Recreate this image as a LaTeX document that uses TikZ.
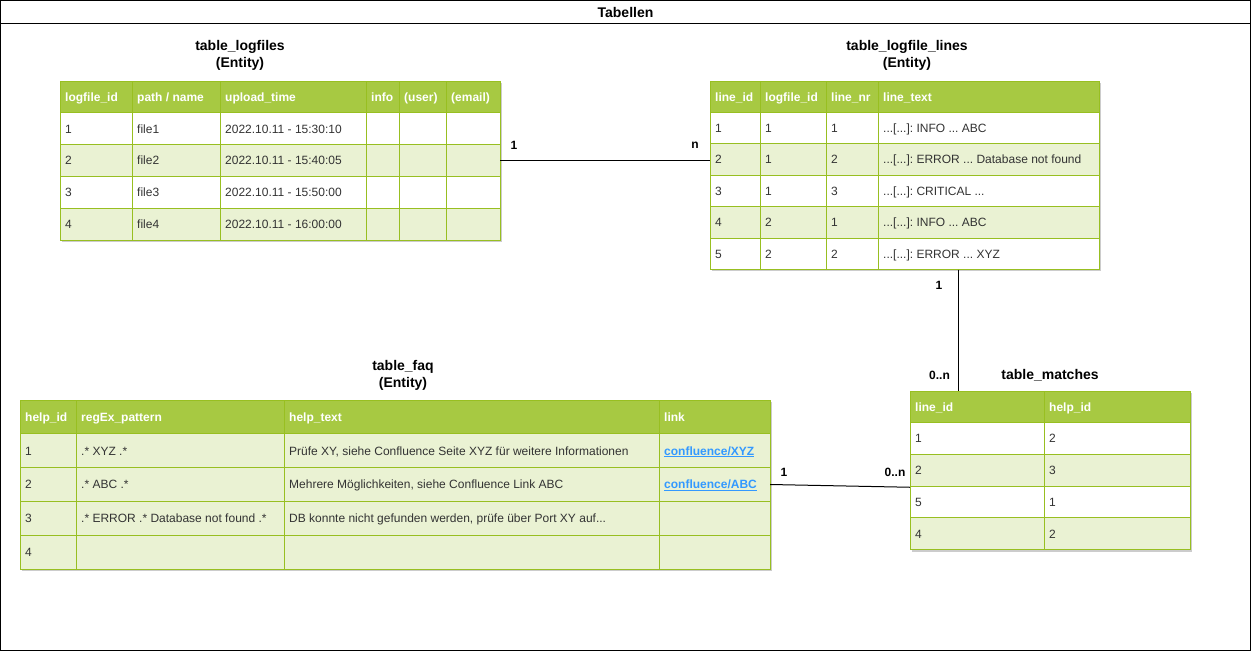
\documentclass[tikz,border=0pt]{standalone}
\usepackage{fontspec}
\setmainfont{Liberation Sans}
\usetikzlibrary{fit}
\frenchspacing
\definecolor{headgreen}{RGB}{167,201,66}
\definecolor{rowgreen}{RGB}{234,242,211}
\definecolor{gridgreen}{RGB}{152,191,33}
\definecolor{textgray}{RGB}{51,51,51}
\definecolor{linkblue}{RGB}{51,153,255}
\tikzset{
  headcell/.style={anchor=base west, inner sep=0pt, text=white, font=\fontsize{12}{14}\selectfont\bfseries},
  bodycell/.style={anchor=base west, inner sep=0pt, text=textgray, font=\fontsize{12}{14}\selectfont},
  tabtitle/.style={align=center, inner sep=0pt, font=\fontsize{14}{16.5}\selectfont\bfseries},
  cardlabel/.style={inner sep=0pt, font=\fontsize{12}{14}\selectfont\bfseries},
  tabgrid/.style={draw=gridgreen, line width=1pt},
  tabshadow/.style={fill=gray!40},
  tabbox/.style={inner sep=0pt, draw=none}
}
\newcommand{\linkcell}[1]{\textcolor{linkblue}{\underline{\textbf{#1}}}}

\begin{document}
\begin{tikzpicture}[x=1pt,y=-1pt]
\useasboundingbox (0,0) rectangle (1251,651);
\draw[line width=1pt] (0.5,0.5) rectangle (1250.5,650.5);
\draw[line width=1pt] (0.5,23) -- (1250.5,23);
\node[tabtitle] (title) at (625.5,12.5) {Tabellen};

% table_logfiles
\node[tabtitle] (lftitle) at (240,55.5) {table\_logfiles\\(Entity)};
\fill[tabshadow] (62,83) rectangle (502,242);
\fill[white] (60,81) rectangle (500,240);
\fill[headgreen] (60,81) rectangle (500,113);
\foreach \y in {144.5,208} \fill[rowgreen] (60,\y) rectangle (500,\y+31.75);
\foreach \y in {112.75,144.5,176.25,208} \draw[tabgrid] (60,\y) -- (500,\y);
\foreach \x in {132,220,366,399,446} \draw[tabgrid] (\x,81) -- (\x,240);
\draw[tabgrid] (60,81) rectangle (500,240);
\node[tabbox, fit={(60,81) (500,240)}] (logfiles) {};
\foreach \x/\t [count=\i] in {60/logfile\_id,132/{path / name},220/upload\_time,366/info,399/(user),446/(email)}
  \node[headcell] (lfh\i) at (\x+5,101.3) {\t};
\foreach \y/\a/\b/\c [count=\i] in {133.2/1/file1/{2022.10.11 - 15:30:10},164.9/2/file2/{2022.10.11 - 15:40:05},196.7/3/file3/{2022.10.11 - 15:50:00},228.4/4/file4/{2022.10.11 - 16:00:00}}
{
  \node[bodycell] (lf-\i-a) at (65,\y) {\a};
  \node[bodycell] (lf-\i-b) at (137,\y) {\b};
  \node[bodycell] (lf-\i-c) at (225,\y) {\c};
}

% table_logfile_lines
\node[tabtitle] (lltitle) at (907,55.5) {table\_logfile\_lines\\(Entity)};
\fill[tabshadow] (712,83) rectangle (1101,271.4);
\fill[white] (710,81) rectangle (1099,269.4);
\fill[headgreen] (710,81) rectangle (1099,112.4);
\foreach \y in {143.8,206.6} \fill[rowgreen] (710,\y) rectangle (1099,\y+31.4);
\foreach \y in {112.4,143.8,175.2,206.6,238} \draw[tabgrid] (710,\y) -- (1099,\y);
\foreach \x in {760,826,878} \draw[tabgrid] (\x,81) -- (\x,269.4);
\draw[tabgrid] (710,81) rectangle (1099,269.4);
\node[tabbox, fit={(710,81) (1099,269.4)}] (lines) {};
\foreach \x/\t [count=\i] in {710/line\_id,760/logfile\_id,826/line\_nr,878/line\_text}
  \node[headcell] (llh\i) at (\x+5,101) {\t};
\foreach \y/\a/\b/\c/\d [count=\i] in {132.4/1/1/1/{...[...]: INFO ... ABC},163.8/2/1/2/{...[...]: ERROR ... Database not found},195.2/3/1/3/{...[...]: CRITICAL ...},226.6/4/2/1/{...[...]: INFO ... ABC},258/5/2/2/{...[...]: ERROR ... XYZ}}
{
  \node[bodycell] (ll-\i-a) at (715,\y) {\a};
  \node[bodycell] (ll-\i-b) at (765,\y) {\b};
  \node[bodycell] (ll-\i-c) at (831,\y) {\c};
  \node[bodycell] (ll-\i-d) at (883,\y) {\d};
}

% table_faq
\node[tabtitle] (faqtitle) at (403,375.5) {table\_faq\\(Entity)};
\fill[tabshadow] (22,402) rectangle (772,571);
\fill[rowgreen] (20,400) rectangle (770,569);
\fill[headgreen] (20,400) rectangle (770,433.8);
\foreach \y in {433.8,467.6,501.4,535.2} \draw[tabgrid] (20,\y) -- (770,\y);
\foreach \x in {76,284,659} \draw[tabgrid] (\x,400) -- (\x,569);
\draw[tabgrid] (20,400) rectangle (770,569);
\node[tabbox, fit={(20,400) (770,569)}] (faq) {};
\foreach \x/\t [count=\i] in {20/help\_id,76/regEx\_pattern,284/help\_text,659/link}
  \node[headcell] (fqh\i) at (\x+5,421.2) {\t};
\foreach \y/\a/\b/\c [count=\i] in {455/1/{.* XYZ .*}/{Prüfe XY, siehe Confluence Seite XYZ für weitere Informationen},488.8/2/{.* ABC .*}/{Mehrere Möglichkeiten, siehe Confluence Link ABC},522.6/3/{.* ERROR .* Database not found .*}/{DB konnte nicht gefunden werden, prüfe über Port XY auf...}}
{
  \node[bodycell] (fq-\i-a) at (25,\y) {\a};
  \node[bodycell] (fq-\i-b) at (81,\y) {\b};
  \node[bodycell] (fq-\i-c) at (289,\y) {\c};
}
\node[bodycell] (fq-1-d) at (664,455) {\linkcell{confluence/XYZ}};
\node[bodycell] (fq-2-d) at (664,488.8) {\linkcell{confluence/ABC}};
\node[bodycell] (fq-4-a) at (25,556.4) {4};

% table_matches
\node[tabtitle] (mttitle) at (1050,375.5) {table\_matches};
\fill[tabshadow] (912,393) rectangle (1192,551.5);
\fill[white] (910,391) rectangle (1190,549.5);
\fill[headgreen] (910,391) rectangle (1190,422.7);
\foreach \y in {454.4,517.8} \fill[rowgreen] (910,\y) rectangle (1190,\y+31.7);
\foreach \y in {422.7,454.4,486.1,517.8} \draw[tabgrid] (910,\y) -- (1190,\y);
\draw[tabgrid] (1044,391) -- (1044,549.5);
\draw[tabgrid] (910,391) rectangle (1190,549.5);
\node[tabbox, fit={(910,391) (1190,549.5)}] (matches) {};
\node[headcell] (mth1) at (915,411.2) {line\_id};
\node[headcell] (mth2) at (1049,411.2) {help\_id};
\foreach \y/\a/\b [count=\i] in {442.9/1/2,474.6/2/3,506.3/5/1,538/4/2}
{
  \node[bodycell] (mt-\i-a) at (915,\y) {\a};
  \node[bodycell] (mt-\i-b) at (1049,\y) {\b};
}

% relations
\draw[line width=1pt] (logfiles.east) -- (logfiles.east -| lines.west);
\node[cardlabel] (r1a) at (514,145) {1};
\node[cardlabel] (r1b) at (695,145) {n};

\draw[line width=1pt] ([xshift=53.5pt]lines.south) -- ([xshift=53.5pt]lines.south |- matches.north);
\node[cardlabel] (r2a) at (939,285) {1};
\node[cardlabel] (r2b) at (939.5,375) {0..n};

\draw[line width=1pt] (faq.east) -- ([yshift=-17pt]matches.west);
\node[cardlabel] (r3a) at (784,472.7) {1};
\node[cardlabel] (r3b) at (895,472.7) {0..n};

\end{tikzpicture}
\end{document}
